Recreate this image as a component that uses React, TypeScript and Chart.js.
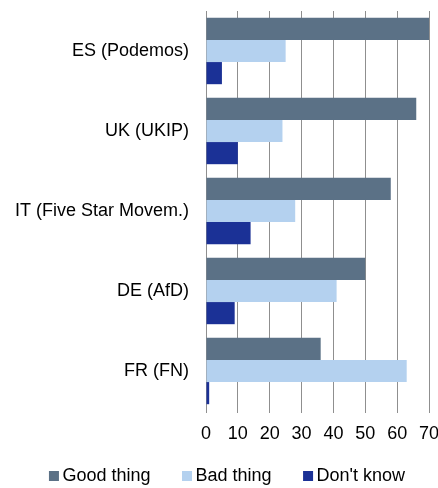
import React, { useEffect, useRef } from "react";
import { Chart, registerables } from "chart.js";

Chart.register(...registerables);

const categories = ["ES (Podemos)", "UK (UKIP)", "IT (Five Star Movem.)", "DE (AfD)", "FR (FN)"];
const seriesNames = ["Good thing", "Bad thing", "Don't know"];
const goodThing = [70, 66, 58, 50, 36];
const badThing = [25, 24, 28, 41, 63];
const dontKnow = [5, 10, 14, 9, 1];
const seriesColors = ["#5b7186", "#b4d1ef", "#1b3196"];
const xTicks = [0, 10, 20, 30, 40, 50, 60, 70];

const FONT = "'Liberation Sans', Arial, sans-serif";

const legendPlugin = {
  id: "customLegend",
  afterDraw(chart: any) {
    const ctx = chart.ctx;
    ctx.save();
    ctx.font = `18px ${FONT}`;
    ctx.textBaseline = "middle";
    ctx.textAlign = "left";
    const box = 10;
    const gapText = 3.5;
    const gapItem = 31.5;
    const items = chart.data.datasets.map((d: any) => ({
      label: d.label,
      color: d.backgroundColor,
      w: box + gapText + ctx.measureText(d.label).width,
    }));
    const total = items.reduce((s: number, it: any) => s + it.w, 0) + gapItem * (items.length - 1);
    let x = 227 - total / 2;
    const y = 476;
    items.forEach((it: any) => {
      ctx.fillStyle = it.color;
      ctx.fillRect(x, y - box / 2, box, box);
      ctx.fillStyle = "#000";
      ctx.fillText(it.label, x + box + gapText, y);
      x += it.w + gapItem;
    });
    ctx.restore();
  },
};

export default function App() {
  const ref = useRef<HTMLCanvasElement | null>(null);
  useEffect(() => {
    if (!ref.current) return;
    const chart = new Chart(ref.current, {
      type: "bar",
      data: {
        labels: categories,
        datasets: [goodThing, badThing, dontKnow].map((vals, i) => ({
          label: seriesNames[i],
          data: vals,
          backgroundColor: seriesColors[i],
          borderWidth: 0,
          barPercentage: 1,
          categoryPercentage: 0.83,
        })),
      },
      options: {
        indexAxis: "y",
        responsive: false,
        animation: false,
        layout: { padding: { top: 11, right: 9, left: 0, bottom: 37 } },
        plugins: {
          legend: { display: false },
          tooltip: { enabled: false },
        },
        scales: {
          x: {
            min: 0,
            max: 70,
            afterFit: (s: any) => {
              s.height = 40;
              s.paddingLeft = 0;
              s.paddingRight = 0;
              s.paddingTop = 0;
              s.paddingBottom = 0;
            },
            afterBuildTicks: (s: any) => {
              s.ticks = xTicks.map((v) => ({ value: v }));
            },
            grid: {
              color: "#8f8f8f",
              lineWidth: 1,
              drawTicks: true,
              tickLength: 2,
            },
            border: { display: false },
            ticks: {
              color: "#000",
              font: { family: FONT, size: 18 },
              padding: 10,
              maxRotation: 0,
            },
          },
          y: {
            afterFit: (s: any) => {
              s.width = 206;
              s.paddingLeft = 0;
              s.paddingRight = 0;
              s.paddingTop = 0;
              s.paddingBottom = 0;
            },
            grid: { display: false, drawTicks: false },
            border: { display: false },
            ticks: {
              color: "#000",
              font: { family: FONT, size: 18 },
              padding: 17,
            },
          },
        },
      },
      plugins: [legendPlugin],
    } as any);
    return () => chart.destroy();
  }, []);
  return (
    <div style={{ position: "absolute", left: 0, top: 0, width: 438, height: 488, background: "#fff" }}>
      <canvas ref={ref} width={438} height={488} />
    </div>
  );
}
